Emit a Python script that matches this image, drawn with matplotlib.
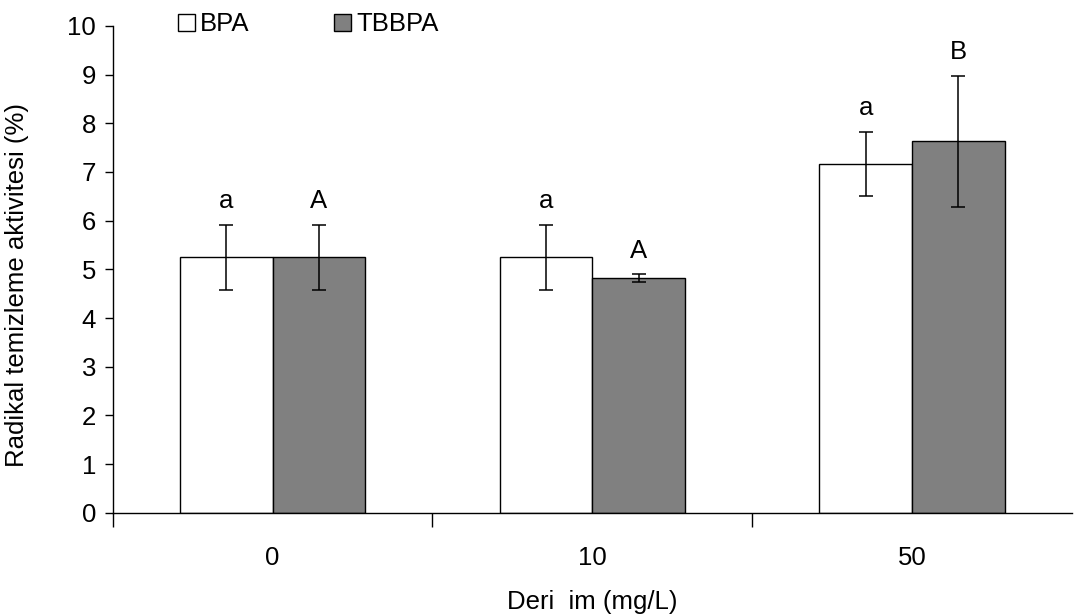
import numpy as np
import matplotlib
matplotlib.use("Agg")
import matplotlib.pyplot as plt

plt.rcParams["font.family"] = ["Liberation Sans", "DejaVu Sans"]

categories = ["0", "10", "50"]
bpa_mean = [5.25, 5.25, 7.16]
bpa_err = [0.67, 0.67, 0.66]
tbbpa_mean = [5.25, 4.82, 7.63]
tbbpa_err = [0.67, 0.08, 1.35]
bpa_letters = ["a", "a", "a"]
tbbpa_letters = ["A", "A", "B"]

FS = 18.5

fig = plt.figure(figsize=(10.74, 6.15), dpi=100)
ax = fig.add_axes([0.105, 0.166, 0.893, 0.792])

x = np.arange(len(categories))
w = 0.29
err_kw = dict(ecolor="black", elinewidth=1.1, capsize=5, capthick=1.1)
ax.bar(x - w / 2, bpa_mean, w, yerr=bpa_err, color="white",
       edgecolor="black", linewidth=1, label="BPA", error_kw=err_kw)
ax.bar(x + w / 2, tbbpa_mean, w, yerr=tbbpa_err, color="#808080",
       edgecolor="black", linewidth=1, label="TBBPA", error_kw=err_kw)

# harfler hata çubuğunun üstüne
for xs, means, errs, letters in [
    (x - w / 2, bpa_mean, bpa_err, bpa_letters),
    (x + w / 2, tbbpa_mean, tbbpa_err, tbbpa_letters),
]:
    for xi, m, e, t in zip(xs, means, errs, letters):
        ax.annotate(t, (xi, m + e), xytext=(0, 12), textcoords="offset points",
                    ha="center", va="baseline", fontsize=FS)

ax.set_xlim(-0.5, len(categories) - 0.5)
ax.set_ylim(0, 10)
ax.set_yticks(range(0, 11))
ax.set_xticks(x)
ax.set_xticklabels(categories)
ax.set_xticks(np.arange(-0.5, len(categories) - 0.5, 1), minor=True)
ax.tick_params(axis="x", which="major", length=0, pad=24, labelsize=FS)
ax.tick_params(axis="x", which="minor", length=10, width=1, direction="out")
ax.tick_params(axis="y", length=6, width=1, direction="out", pad=6, labelsize=FS)

for s in ["top", "right"]:
    ax.spines[s].set_visible(False)
for s in ["left", "bottom"]:
    ax.spines[s].set_linewidth(1)

ax.set_xlabel("Deri  im (mg/L)", fontsize=FS, labelpad=14)
ax.set_ylabel("Radikal temizleme aktivitesi (%)", fontsize=FS)
ax.yaxis.set_label_coords(-0.087, 0.468)

ax.legend(loc="upper left", bbox_to_anchor=(0.044, 1.075), ncol=2, frameon=False,
          fontsize=FS, handlelength=0.65, handleheight=0.65, handletextpad=0.2,
          columnspacing=3.3)

fig.savefig("out.png", dpi=100)
plt.close(fig)
